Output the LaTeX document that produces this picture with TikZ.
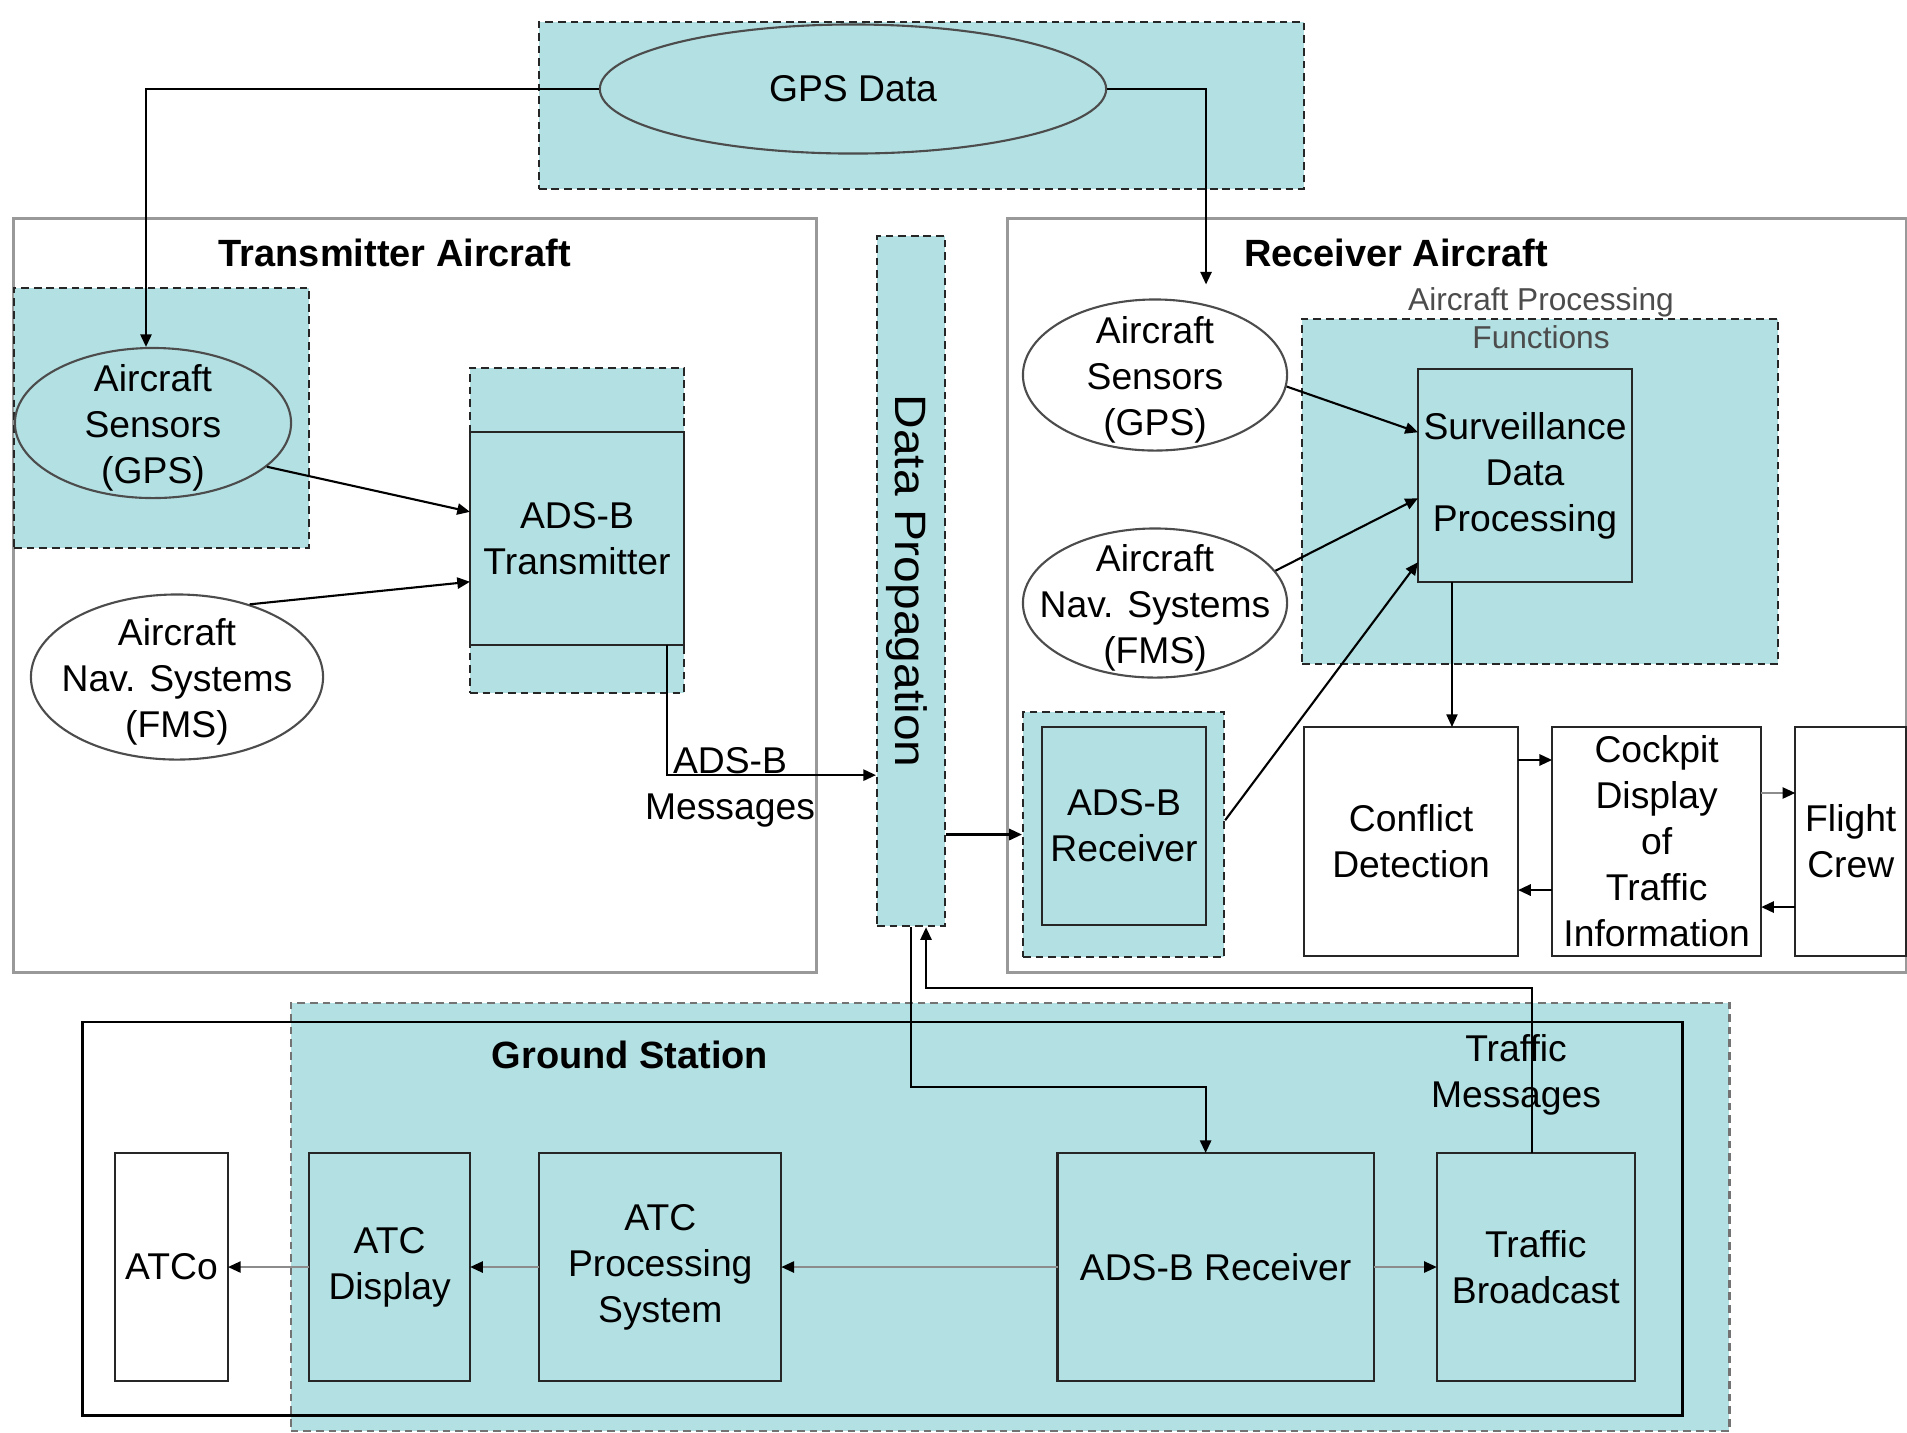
\documentclass[tikz,border=0pt]{standalone}
\usepackage{fontspec}
\usepackage{graphicx}
\setmainfont{Liberation Sans}
\usetikzlibrary{positioning, arrows.meta, shapes.geometric}
\definecolor{adsb}{RGB}{179,224,226}

\begin{document}
\begin{tikzpicture}[x=0.01cm, y=-0.01cm, line width=0.6pt,
  -{Triangle[length=3.6pt, width=3.2pt]},
  font=\fontsize{10.6}{13.1}\selectfont,
  area/.style = {draw=black!85, dash pattern=on 2.2pt off 1.4pt, fill=adsb},
  zone/.style = {draw=black!40, line width=0.9pt},
  box/.style = {draw=black!85, rectangle, align=center, inner sep=0.5pt, outer sep=0pt},
  oval/.style = {draw=black!70, ellipse, inner sep=0pt},
  inside/.style = {align=center, yshift=-0.05cm},
  title/.style = {font=\fontsize{10.8}{13}\selectfont\bfseries},
  feed/.style = {draw=black!45, line width=0.5pt,
    -{Triangle[length=3.6pt, width=3.2pt, color=black]}}]
\useasboundingbox (0,0) rectangle (1907,1432);

% GPS source
\node[area, minimum width=7.65cm, minimum height=1.67cm] (gpsarea) at (921.5,105.5) {};
\node[oval, fill=adsb, minimum width=5.06cm, minimum height=1.29cm] (gps) at (853,89) {GPS Data};

% transmitter aircraft
\node[zone, minimum width=8.02cm, minimum height=7.53cm] (txac) at (415,595.5) {};
\node[title] (txtitle) at (395,253) {Transmitter Aircraft};
\node[area, minimum width=2.95cm, minimum height=2.60cm] (txsensarea) at (161.5,418) {};
\node[oval, fill=adsb, minimum width=2.76cm, minimum height=1.50cm,
  label={[inside]center:Aircraft\\Sensors\\(GPS)}] (txsens) at (153,423) {};
\node[area, minimum width=2.14cm, minimum height=3.25cm] (txarea) at (577,530.5) {};
\node[box, fill=adsb, minimum width=2.14cm, minimum height=2.13cm] (tx) at (577,538.5) {ADS-B\\Transmitter};
\node[oval, fill=white, minimum width=2.92cm, minimum height=1.65cm,
  label={[inside]center:Aircraft\\Nav. Systems\\(FMS)}] (txnav) at (177,677) {};

% data propagation
\node[area, minimum width=0.68cm, minimum height=6.90cm] (prop) at (911,581) {};
\node[rotate=-90, font=\fontsize{12.5}{14}\selectfont] (proptext) at (907,581)
  {\scalebox{1.09}[1]{Data Propagation}};

% receiver aircraft
\node[zone, minimum width=8.98cm, minimum height=7.53cm] (rxac) at (1457,595.5) {};
\node[title] (rxtitle) at (1396,253) {Receiver Aircraft};
\node[area, minimum width=4.76cm, minimum height=3.45cm] (procarea) at (1540,491.5) {};
\node[font=\fontsize{9}{10.8}\selectfont, text=black!70, align=center] (proctitle) at (1541,318)
  {Aircraft Processing\\Functions};
\node[box, fill=adsb, minimum width=2.14cm, minimum height=2.13cm] (sdp) at (1525,475.5)
  {Surveillance\\Data\\Processing};
\node[oval, fill=white, minimum width=2.64cm, minimum height=1.51cm,
  label={[inside]center:Aircraft\\Sensors\\(GPS)}] (rxsens) at (1155,375) {};
\node[oval, fill=white, minimum width=2.64cm, minimum height=1.49cm,
  label={[inside]center:Aircraft\\Nav. Systems\\(FMS)}] (rxnav) at (1155,603) {};
\node[area, minimum width=2.01cm, minimum height=2.45cm] (rxarea) at (1123.5,834.5) {};
\node[box, fill=adsb, minimum width=1.64cm, minimum height=1.98cm] (rx) at (1124,826) {ADS-B\\Receiver};
\node[box, fill=white, minimum width=2.14cm, minimum height=2.29cm] (conflict) at (1411,841.5)
  {Conflict\\Detection};
\node[box, fill=white, minimum width=2.09cm, minimum height=2.29cm] (cdti) [right=0.34cm of conflict]
  {Cockpit\\Display\\of\\Traffic\\Information};
\node[box, fill=white, minimum width=1.11cm, minimum height=2.29cm] (crew) [right=0.34cm of cdti]
  {Flight\\Crew};

% ground station
\node[area, draw=black!55, minimum width=14.38cm, minimum height=4.28cm] (gsarea) at (1010,1217) {};
\node[draw, line width=0.8pt, minimum width=15.99cm, minimum height=3.93cm] (gs) at (882.5,1218.5) {};
\node[title] (gstitle) at (630,1055) {Ground Station};
\node[box, fill=white, minimum width=1.13cm, minimum height=2.28cm] (atco) at (171.5,1267) {ATCo};
\node[box, fill=adsb, minimum width=1.61cm, minimum height=2.28cm] (atcdisp) [right=0.81cm of atco]
  {ATC\\Display};
\node[box, fill=adsb, minimum width=2.42cm, minimum height=2.28cm] (atcproc) [right=0.69cm of atcdisp]
  {ATC\\Processing\\System};
\node[box, fill=adsb, minimum width=3.16cm, minimum height=2.28cm] (gsrx) [right=2.76cm of atcproc]
  {ADS-B Receiver};
\node[box, fill=adsb, minimum width=1.98cm, minimum height=2.28cm] (tbcast) [right=0.63cm of gsrx]
  {Traffic\\Broadcast};

% GPS feeds both aircraft
\draw (gps.west) -| ([xshift=-0.07cm]txsens.north);
\draw (gps.east) -| ([shift={(0.51cm,0.14cm)}]rxsens.north);

% transmitter side
\draw (txsens.-21) -- (tx.166);
\draw (txnav.45) -- (tx.202);
\draw ([xshift=0.9cm]tx.south) |- ([yshift=-1.94cm]prop.west);
\node[align=center] (adsbmsg) at (730,787) {ADS-B\\Messages};

% receiver side
\draw (prop.east |- rxarea.west) -- (rxarea.west);
\draw (rxsens.-5) -- (sdp.158);
\draw (rxnav.15) -- (sdp.192);
\draw (rxarea.8) -- (sdp.219);
\draw[line width=0.4pt] ([xshift=-0.73cm]sdp.south) -- ([xshift=-0.73cm]sdp.south |- conflict.north);
\draw ([yshift=0.815cm]conflict.east) -- ([yshift=0.815cm]cdti.west);
\draw ([yshift=-0.485cm]cdti.west) -- ([yshift=-0.485cm]conflict.east);
\draw[feed] ([yshift=0.485cm]cdti.east) -- ([yshift=0.485cm]crew.west);
\draw ([yshift=-0.655cm]crew.west) -- ([yshift=-0.655cm]cdti.east);

% ground side
\draw[feed] (gsrx) -- (atcproc);
\draw[feed] (atcproc) -- (atcdisp);
\draw[feed] (atcdisp) -- (atco);
\draw[feed] (gsrx) -- (tbcast);
\draw (prop.south) -- ++(0,160) -| ([xshift=-0.1cm]gsrx.north);
\draw ([xshift=-0.04cm]tbcast.north) -- ++(0,-165) -| ([xshift=0.15cm]prop.south);
\node[align=center] (trafmsg) at (1516,1075) {Traffic\\Messages};
\end{tikzpicture}
\end{document}
